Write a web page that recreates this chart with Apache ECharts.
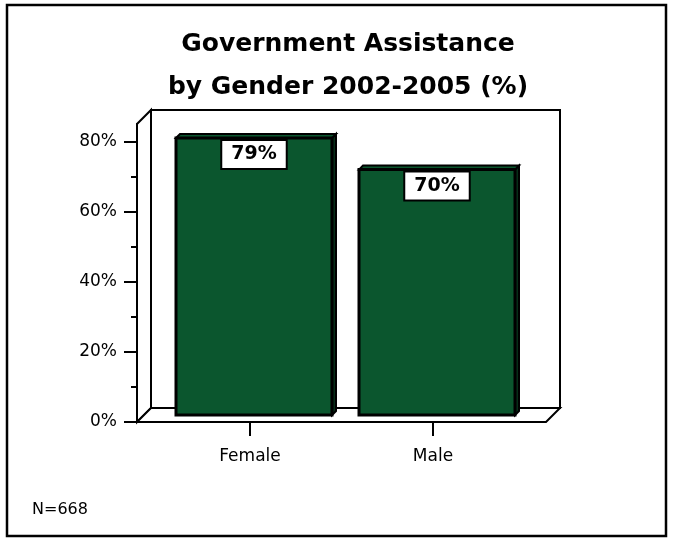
<!DOCTYPE html>
<html><head><meta charset="utf-8">
<script src="https://cdn.jsdelivr.net/npm/echarts@6/dist/echarts.min.js"></script>
<style>html,body{margin:0;padding:0;background:#fff}#c{width:673px;height:540px}</style>
</head><body><div id="c"></div>
<script>
const categories = ['Female', 'Male'];
const values = [79, 70];
const majorTicks = [0, 20, 40, 60, 80];
const minorTicks = [10, 30, 50, 70];
const yMax = 85;
const titleLines = ['Government Assistance', 'by Gender 2002-2005 (%)'];
const footnote = 'N=668';

const FONT = 'DejaVu Sans';
const FL = 137, FR = 546, FT = 124, FB = 422, D = 14;
const W = 673, H = 540;
const barColor = '#0b562e';

const chart = echarts.init(document.getElementById('c'), null, {renderer: 'canvas'});

function renderBar(params, api) {
  const x = api.value(0), v = api.value(1);
  const top = api.coord([x, v]);
  const base = api.coord([x, 0]);
  const w = 156, d = 4;
  const l = top[0] - w / 2, r = top[0] + w / 2;
  return {
    type: 'group',
    children: [
      {type: 'polygon', shape: {points: [[r, top[1]], [r + d, top[1] - d], [r + d, base[1] - d], [r, base[1]]]},
       style: {fill: '#062e18', stroke: '#000', lineWidth: 2}},
      {type: 'polygon', shape: {points: [[l, top[1]], [l + d, top[1] - d], [r + d, top[1] - d], [r, top[1]]]},
       style: {fill: barColor, stroke: '#000', lineWidth: 2}},
      {type: 'rect', shape: {x: l, y: top[1], width: w, height: base[1] - top[1]},
       style: {fill: barColor, stroke: '#000', lineWidth: 3}},
      {type: 'text', x: top[0], y: top[1] + 3, z2: 10,
       style: {text: v + '%', font: 'bold 19px ' + FONT, fill: '#000', align: 'center', verticalAlign: 'top',
               backgroundColor: '#fff', borderColor: '#000', borderWidth: 2, padding: [4, 9, 4, 9]}}
    ]
  };
}

const option = {
  animation: false,
  backgroundColor: '#fff',
  title: {
    text: titleLines.join('\n'),
    left: 343, top: 18, textAlign: 'center',
    textStyle: {fontFamily: FONT, fontWeight: 'bold', fontSize: 25, lineHeight: 43, color: '#000'}
  },
  graphic: [
    {type: 'rect', z: -10, shape: {x: 7, y: 5, width: 659, height: 531}, style: {fill: '#fff', stroke: '#000', lineWidth: 2.5}},
    {type: 'rect', z: -9, shape: {x: FL + D, y: FT - D, width: FR - FL, height: FB - FT}, style: {fill: '#fff', stroke: '#000', lineWidth: 2}},
    {type: 'polygon', z: -9, shape: {points: [[FL, FB], [FL, FT], [FL + D, FT - D], [FL + D, FB - D]]}, style: {fill: '#fff', stroke: '#000', lineWidth: 2}},
    {type: 'polygon', z: -9, shape: {points: [[FL, FB], [FR, FB], [FR + D, FB - D], [FL + D, FB - D]]}, style: {fill: '#fff', stroke: '#000', lineWidth: 2}},
    {type: 'text', z: 5, left: 32, top: 502, style: {text: footnote, font: '16px ' + FONT, fill: '#000'}}
  ],
  grid: [
    {left: FL, right: W - FR, top: FT, bottom: H - FB},
    {left: 158.5, right: W - 524.5, top: FT, bottom: H - FB},
    {left: 162.5, right: W - 528.5, top: FT - 7, bottom: H - FB + 7}
  ],
  xAxis: [
    {gridIndex: 0, type: 'value', show: false, min: 0, max: 1},
    {gridIndex: 1, type: 'category', data: categories,
     axisLine: {show: false},
     axisTick: {show: true, alignWithLabel: true, length: 14, lineStyle: {color: '#000', width: 2}},
     axisLabel: {margin: 26, color: '#000', fontFamily: FONT, fontSize: 17}},
    {gridIndex: 2, type: 'category', data: categories, show: false}
  ],
  yAxis: [
    {gridIndex: 0, type: 'value', min: 0, max: yMax, position: 'left',
     axisLine: {show: true, lineStyle: {color: '#000', width: 2}},
     axisTick: {show: true, length: 13, customValues: majorTicks, lineStyle: {color: '#000', width: 2}},
     axisLabel: {customValues: majorTicks, formatter: '{value}%', margin: 20, color: '#000', fontFamily: FONT, fontSize: 17},
     splitLine: {show: false}},
    {gridIndex: 0, type: 'value', min: 0, max: yMax, position: 'left',
     axisLine: {show: false},
     axisTick: {show: true, length: 6, customValues: minorTicks, lineStyle: {color: '#000', width: 2}},
     axisLabel: {show: false}, splitLine: {show: false}},
    {gridIndex: 1, type: 'value', min: 0, max: yMax, show: false},
    {gridIndex: 2, type: 'value', min: 0, max: yMax, show: false}
  ],
  series: [
    {type: 'custom', xAxisIndex: 2, yAxisIndex: 3, renderItem: renderBar,
     data: categories.map((c, i) => [i, values[i]]), z: 5}
  ]
};
chart.setOption(option);
</script>
</body></html>
